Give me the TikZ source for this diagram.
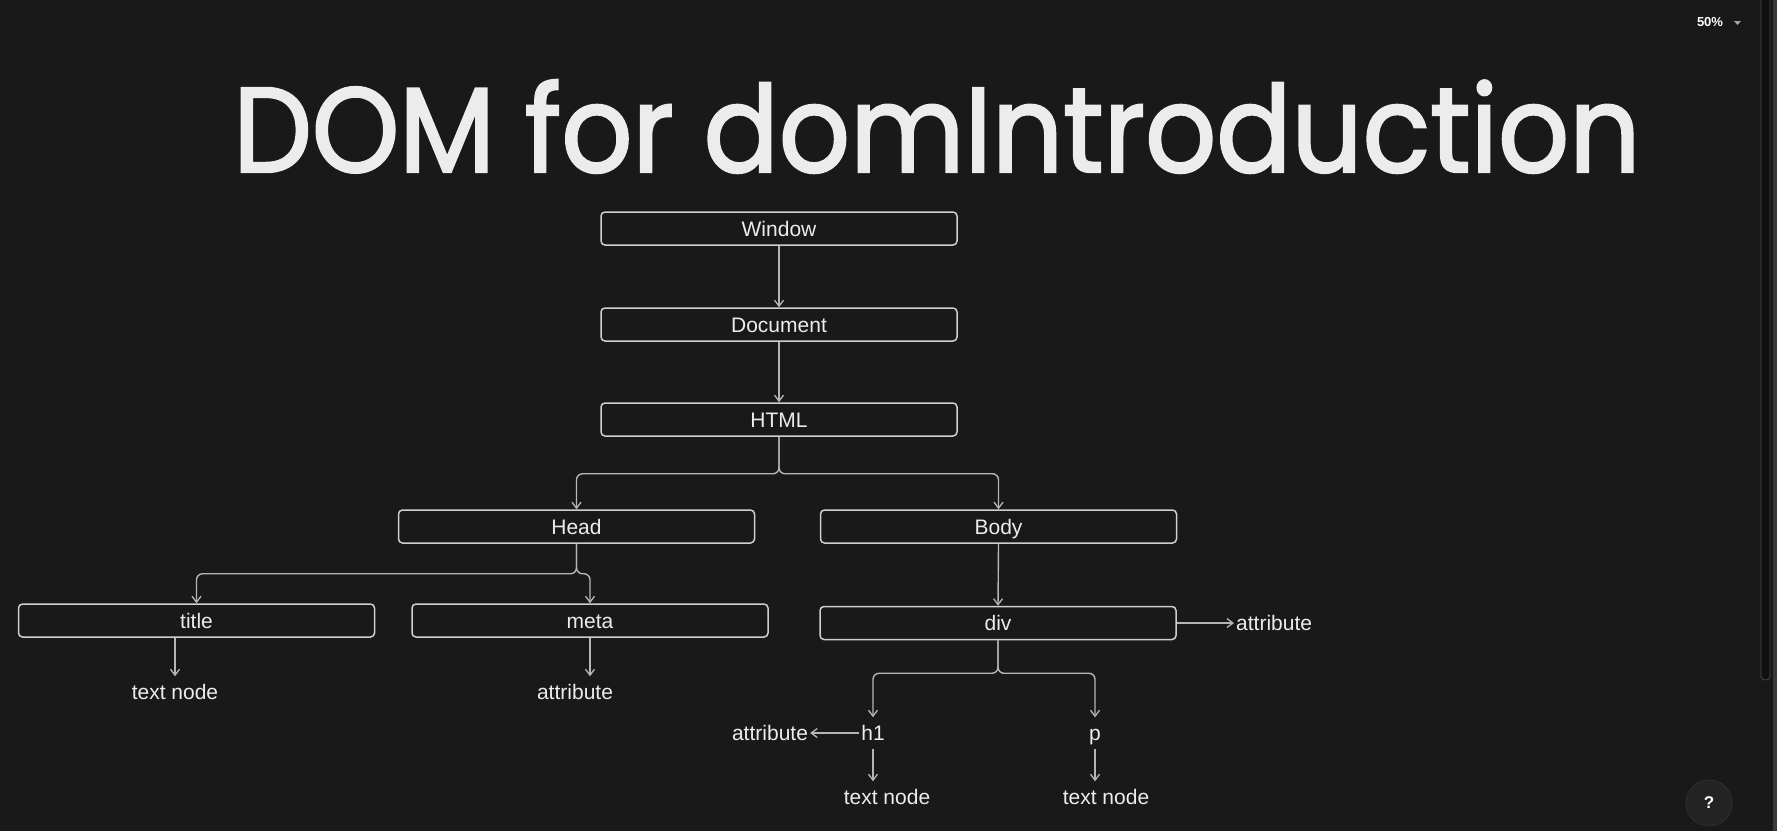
\documentclass[tikz,border=0pt]{standalone}
\usepackage{fontspec}
\usepackage{graphicx}
\setmainfont{Liberation Sans}
\newfontfamily\titlefont[FakeBold=2]{Poppins}
\usetikzlibrary{arrows.meta,calc}
\definecolor{bg}{HTML}{191919}
\definecolor{boxline}{HTML}{CFCFCF}
\definecolor{connline}{HTML}{B5B5B5}
\definecolor{txt}{HTML}{ECECEC}
\definecolor{thumbfill}{HTML}{101010}
\definecolor{thumbline}{HTML}{4A4A4A}
\definecolor{strip}{HTML}{3A3A3A}
\definecolor{helpfill}{HTML}{232323}
\definecolor{helpline}{HTML}{303030}
\tikzset{
  domfont/.style={font=\fontsize{21}{24}\selectfont, text=txt},
  domnode/.style={domfont, rectangle, rounded corners=4pt, draw=boxline, line width=1.5pt,
    minimum width=356pt, minimum height=33pt, inner sep=0pt, text height=15pt, text depth=0pt},
  leaf/.style={domfont, inner ysep=8pt, inner xsep=2pt, text height=15pt, text depth=0pt},
  conn/.style={draw=connline, line width=1.4pt, -{Straight Barb[length=6pt,width=9pt,line width=1.3pt]}},
  branch/.style={conn, rounded corners=6pt}
}
\begin{document}
\begin{tikzpicture}[x=1pt, y=-1pt]
\useasboundingbox (0,0) rectangle (1777,831);
\fill[bg] (0,0) rectangle (1777,831);

% title
\node[anchor=base west, inner sep=0pt, text=txt] (heading) at (233,172)
  {\resizebox{1407pt}{92pt}{\titlefont DOM for domIntroduction}};

% boxes
\node[domnode] (window)   at (779,228.5) {Window};
\node[domnode] (document) at (779,324.5) {Document};
\node[domnode] (html)     at (779,419.5) {HTML};
\node[domnode] (head)     at (576.5,526.5) {Head};
\node[domnode] (body)     at (998.5,526.5) {Body};
\node[domnode] (title)    at (196.5,620.5) {title};
\node[domnode] (meta)     at (590,620.5) {meta};
\node[domnode] (div)      at (998,623) {div};

% leaves
\node[leaf] (tn1)   at (175,692) {text node};
\node[leaf] (attr1) at (575,692) {attribute};
\node[leaf, anchor=west] (attr2) at (1234,623) {attribute};
\node[leaf] (h1)    at (873,733) {h1};
\node[leaf] (attr3) at (770,733) {attribute};
\node[leaf] (p)     at (1095,733) {p};
\node[leaf] (tn2)   at (887,797) {text node};
\node[leaf] (tn3)   at (1106,797) {text node};

% connectors
\draw[conn] (window.south) -- (document.north);
\draw[conn] (document.south) -- (html.north);
\draw[branch] (html.south) -- ++(0,37) -| (head.north);
\draw[branch] (html.south) -- ++(0,37) -| (body.north);
\draw[branch] (head.south) -- ++(0,30) -| (title.north);
\draw[branch] (head.south) -- ++(0,30) -| (meta.north);
\draw[conn] (tn1.north |- title.south) -- (tn1.north);
\draw[conn] (meta.south) -- (meta.south |- attr1.north);
\draw[conn] (body.south) -- (div.north);
\draw[conn] (div.east) -- (attr2.west);
\draw[branch] (div.south) -- ++(0,33) -| (h1.north);
\draw[branch] (div.south) -- ++(0,33) -| (p.north);
\draw[conn] (h1.west) -- (attr3.east);
\draw[conn] (h1.south) -- (h1.south |- tn2.north);
\draw[conn] (p.south) -- (p.south |- tn3.north);

% UI chrome
\node[font=\bfseries\fontsize{13}{15}\selectfont, text=white, inner sep=0pt] (zoomlbl) at (1710,22) {50\%};
\fill[gray!70] (1734,21) -- (1741,21) -- (1737.5,25) -- cycle;
\draw[fill=thumbfill, draw=thumbline, line width=0.8pt, rounded corners=4pt]
  (1761,-10) -- (1761,680) -- (1770,680) -- (1770,-10);
\fill[strip] (1773,0) rectangle (1777,831);
\node[circle, minimum size=46pt, fill=helpfill, draw=helpline, line width=0.8pt,
  font=\bfseries\fontsize{17}{19}\selectfont, text=white, inner sep=0pt] (help) at (1709,803) {?};
\end{tikzpicture}
\end{document}
